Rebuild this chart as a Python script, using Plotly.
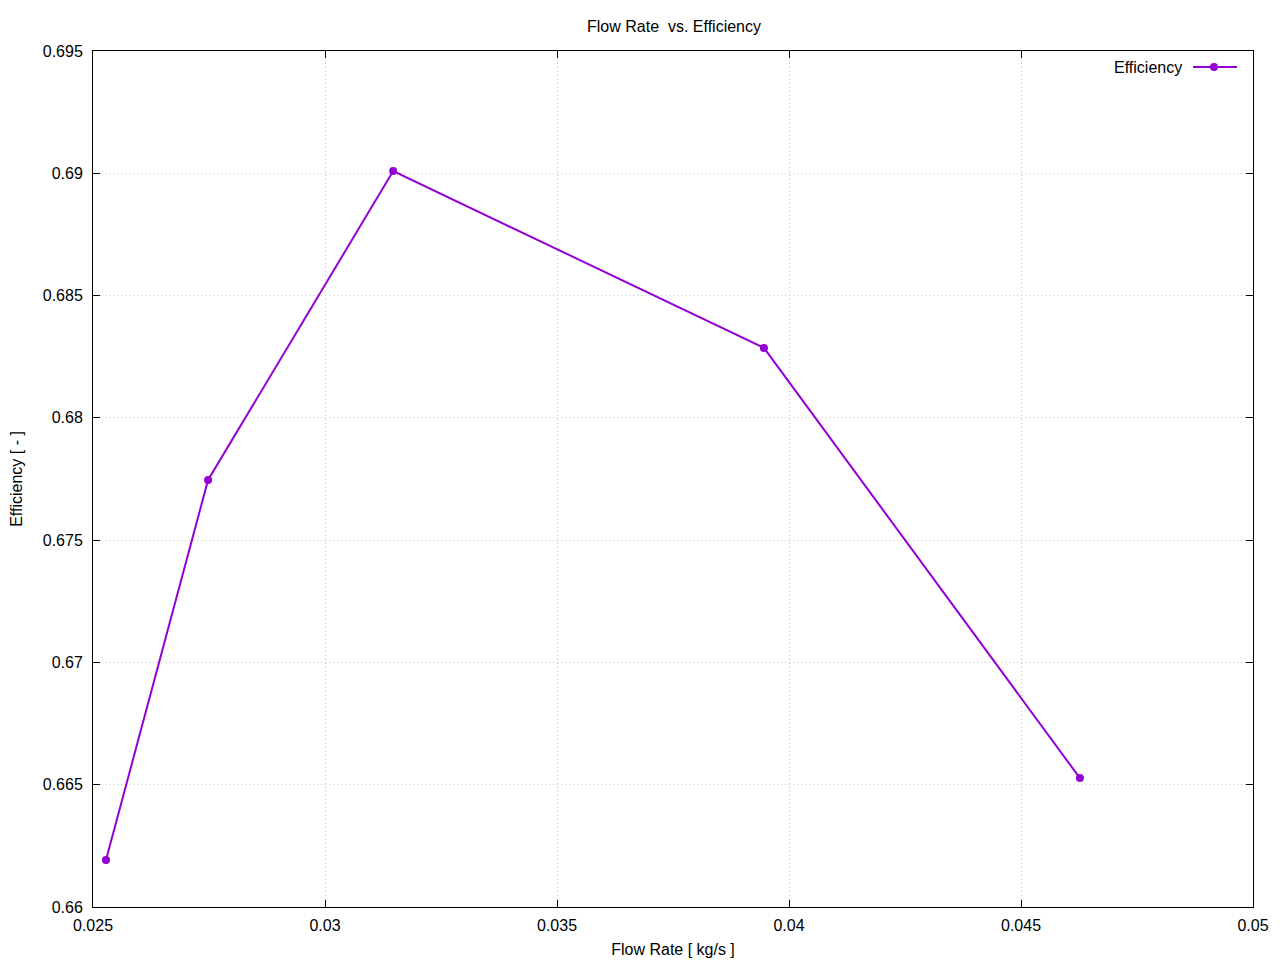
import plotly.graph_objects as go

flow_rate = [0.02528, 0.02748, 0.03147, 0.03946, 0.04627]
efficiency = [0.66192, 0.67746, 0.69009, 0.68286, 0.66527]
x_ticks = [0.025, 0.03, 0.035, 0.04, 0.045, 0.05]
x_tick_labels = ["0.025", "0.03", "0.035", "0.04", "0.045", "0.05"]
y_ticks = [0.66, 0.665, 0.67, 0.675, 0.68, 0.685, 0.69, 0.695]
y_tick_labels = ["0.66", "0.665", "0.67", "0.675", "0.68", "0.685", "0.69", "0.695"]

color = "#9400D3"
font = "Liberation Sans, Arial, sans-serif"

fig = go.Figure()
fig.add_trace(go.Scatter(
    x=flow_rate, y=efficiency, mode="lines+markers", name="Efficiency",
    line=dict(color=color, width=2), marker=dict(color=color, size=8),
    showlegend=False,
))

axis_common = dict(
    showline=True, linecolor="black", linewidth=1, mirror="ticks",
    ticks="inside", ticklen=7, tickcolor="black", tickwidth=1,
    showgrid=True, gridcolor="#c4c4c4", griddash="1px,3px", gridwidth=1,
    zeroline=False, automargin=False, tickfont=dict(family=font, size=16, color="black"),
)

fig.update_xaxes(range=[0.025, 0.05], tickvals=x_ticks, ticktext=x_tick_labels,
                 title=dict(text="Flow Rate [ kg/s ]", font=dict(family=font, size=16, color="black"), standoff=10),
                 ticklabelstandoff=4, **axis_common)
fig.update_yaxes(range=[0.66, 0.695], tickvals=y_ticks, ticktext=y_tick_labels,
                 title=dict(text="Efficiency [ - ]", font=dict(family=font, size=16, color="black"), standoff=16),
                 ticklabelstandoff=6, **axis_common)

pw, ph = 1280 - 93 - 27, 960 - 51 - 53
def px(xp):
    return (xp - 93) / pw
def py(yp):
    return (907 - yp) / ph

# legend drawn manually (text left of sample, gnuplot style)
fig.add_annotation(x=px(1184), y=py(67), xref="paper", yref="paper", text="Efficiency",
                   showarrow=False, xanchor="right", yanchor="middle",
                   font=dict(family=font, size=16, color="black"))
fig.add_shape(type="line", xref="paper", yref="paper", x0=px(1193), x1=px(1237), y0=py(67), y1=py(67),
              line=dict(color=color, width=2))
fig.add_shape(type="circle", xref="paper", yref="paper", x0=px(1210), x1=px(1218), y0=py(71), y1=py(63),
              fillcolor=color, line=dict(color=color, width=0))

fig.update_layout(
    width=1280, height=960,
    margin=dict(l=93, r=27, t=51, b=53, autoexpand=False),
    paper_bgcolor="white", plot_bgcolor="white",
    title=dict(text="Flow Rate  vs. Efficiency", x=px(674), xref="paper", xanchor="center",
               y=1 - 26 / 960, yanchor="middle",
               font=dict(family=font, size=16, color="black")),
    font=dict(family=font, size=16, color="black"),
)

fig.write_html("out.html", config={"displayModeBar": False},
               post_script="document.body.style.margin='0';document.body.style.overflow='hidden';")
